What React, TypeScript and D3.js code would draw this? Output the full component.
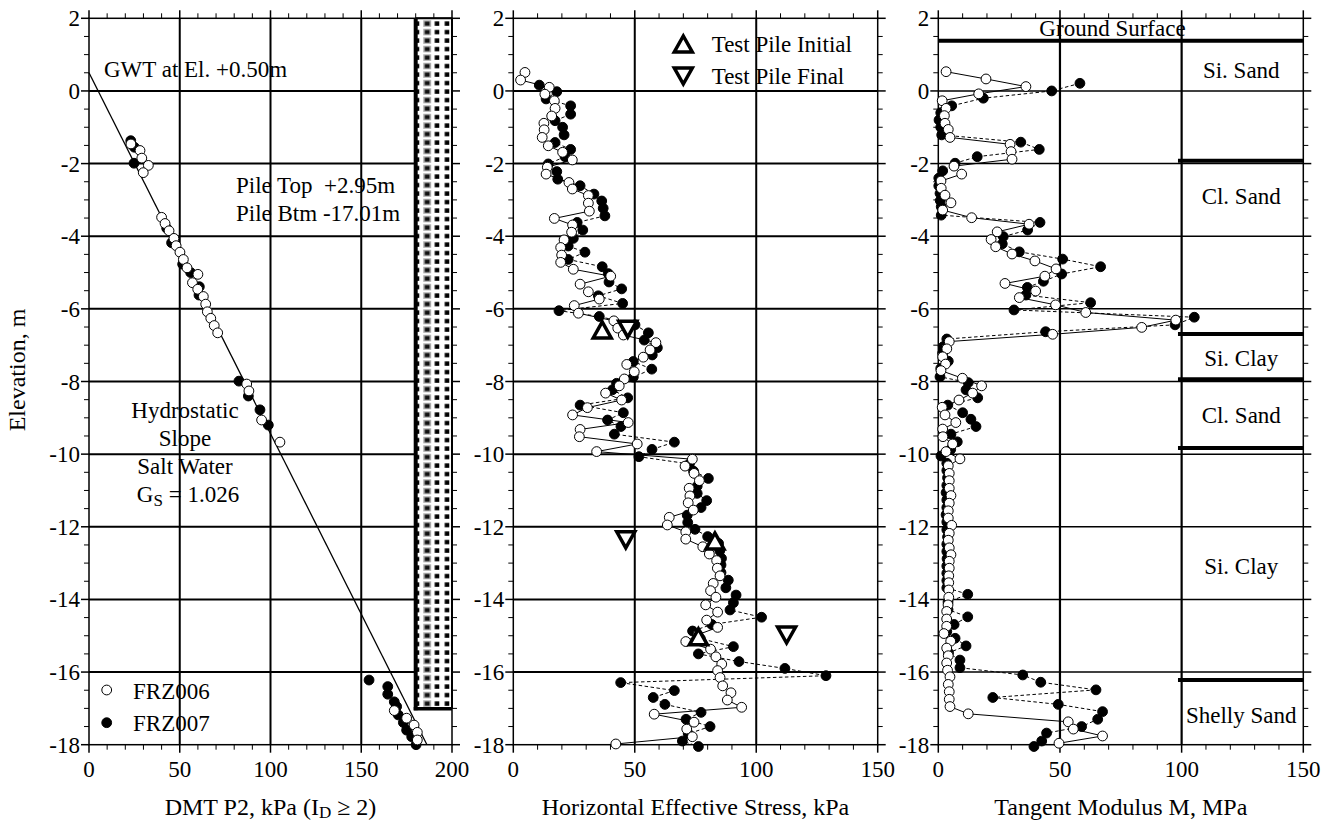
import React from 'react';
import * as d3 from 'd3';

const FONT = '"Liberation Serif", "Times New Roman", Times, serif';

// ---------- tick values ----------
const yTickValues = [2, 0, -2, -4, -6, -8, -10, -12, -14, -16, -18];
const xTicksP1 = [0, 50, 100, 150, 200];
const xTicksP23 = [0, 50, 100, 150];

// ---------- Panel 1 : DMT P2 (kPa) vs elevation ----------
const p2FRZ006: [number, number][] = [
  [23.1, -1.46], [28.1, -1.64], [29.1, -1.85], [32.7, -2.05], [29.9, -2.25],
  [40.0, -3.48], [41.9, -3.65], [44.1, -3.85], [46.8, -4.06], [48.0, -4.26],
  [50.1, -4.44], [52.0, -4.64], [54.0, -4.87], [60.0, -5.05], [57.0, -5.28],
  [59.9, -5.46], [63.0, -5.66], [64.3, -5.87], [65.2, -6.08], [67.1, -6.26],
  [69.0, -6.46], [70.9, -6.66], [86.9, -8.07], [88.1, -8.26], [95.1, -9.06],
  [105.2, -9.67], [168.2, -17.06], [175.0, -17.27], [179.1, -17.46], [180.9, -17.66],
  [180.9, -17.87],
];
const p2FRZ007: [number, number][] = [
  [23.0, -1.37], [25.0, -1.55], [24.8, -1.99], [42.8, -3.78], [45.5, -4.18],
  [51.6, -4.77], [56.0, -5.0], [60.8, -5.39], [60.6, -5.62], [82.6, -7.99],
  [87.8, -8.40], [94.2, -8.78], [98.8, -9.2], [154.3, -16.22], [164.6, -16.40],
  [164.6, -16.61], [168.2, -16.82], [169.5, -16.95], [170.4, -17.18], [173.2, -17.39],
  [175.0, -17.6], [177.8, -17.78], [180.2, -18.0],
];
const gwtElevation = 0.5;
const hydroBottom: [number, number] = [186.2, -18];
const pileX = [180, 200];
const pileBottom = -17.01;

// ---------- Panel 2 : horizontal effective stress (kPa) ----------
const shFRZ006: [number, number][] = [
  [4.8, 0.51], [3.0, 0.30], [14.8, 0.10], [13.0, -0.09], [16.9, -0.27], [17.2, -0.48],
  [15.8, -0.69], [12.6, -0.89], [12.7, -1.07], [11.9, -1.28], [14.4, -1.51], [20.3, -1.69],
  [24.3, -1.90], [14.0, -2.10], [13.5, -2.29], [22.9, -2.52], [24.3, -2.70], [30.9, -2.88],
  [30.9, -3.09], [31.3, -3.31], [16.9, -3.51], [24.4, -3.69], [24.0, -3.89], [20.9, -4.10],
  [19.5, -4.31], [19.9, -4.52], [19.5, -4.72], [24.7, -4.91], [40.1, -5.10], [27.5, -5.32],
  [30.9, -5.53], [35.4, -5.73], [25.1, -5.91], [26.8, -6.12], [41.4, -6.33], [43.0, -6.53],
  [45.3, -6.72], [58.7, -6.93], [56.3, -7.13], [53.5, -7.33], [46.7, -7.53], [49.8, -7.73],
  [45.7, -7.93], [43.6, -8.12], [38.0, -8.32], [44.6, -8.51], [30.5, -8.72], [24.4, -8.92],
  [47.3, -9.13], [27.5, -9.32], [27.2, -9.52], [51.0, -9.72], [34.3, -9.93], [73.7, -10.14],
  [70.7, -10.33], [74.4, -10.53], [76.6, -10.73], [72.4, -10.94], [72.7, -11.15], [72.0, -11.34],
  [74.1, -11.54], [64.2, -11.74], [63.4, -11.95], [71.0, -12.14], [71.0, -12.34], [78.0, -12.55],
  [80.7, -12.75], [83.7, -12.93], [84.0, -13.14], [85.1, -13.35], [82.3, -13.56], [81.2, -13.76],
  [83.4, -13.94], [79.2, -14.15], [84.1, -14.35], [79.6, -14.57], [84.1, -14.77], [76.0, -14.97],
  [71.0, -15.16], [81.2, -15.37], [83.4, -15.58], [85.8, -15.78], [84.1, -15.96], [85.1, -16.15],
  [86.2, -16.38], [89.6, -16.57], [88.1, -16.77], [94.0, -16.97], [58.0, -17.16], [74.4, -17.38],
  [71.4, -17.57], [73.7, -17.78], [42.2, -17.98], [75.0, -18.25],
];
const shFRZ007: [number, number][] = [
  [10.7, 0.16], [17.9, -0.02], [13.5, -0.22], [23.6, -0.41], [23.6, -0.64], [17.2, -0.82],
  [20.3, -1.0], [20.9, -1.21], [17.2, -1.42], [23.6, -1.61], [21.3, -1.81], [14.4, -2.01],
  [17.9, -2.22], [18.3, -2.43], [27.5, -2.61], [33.2, -2.84], [36.4, -3.03], [37.0, -3.23],
  [37.7, -3.44], [26.3, -3.62], [28.6, -3.83], [24.7, -4.06], [22.6, -4.27], [29.5, -4.44],
  [22.6, -4.64], [36.6, -4.84], [39.1, -5.03], [39.4, -5.26], [44.6, -5.45], [35.0, -5.64],
  [45.0, -5.85], [18.8, -6.05], [35.4, -6.21], [50.1, -6.44], [55.6, -6.66], [53.9, -6.86],
  [59.3, -7.07], [57.2, -7.27], [49.4, -7.45], [57.0, -7.66], [49.4, -7.88], [42.5, -8.05],
  [40.8, -8.23], [47.1, -8.45], [27.5, -8.65], [45.3, -8.86], [38.8, -9.06], [44.3, -9.24],
  [41.6, -9.45], [66.3, -9.67], [57.1, -9.87], [51.7, -10.07], [72.5, -10.27], [74.2, -10.47],
  [80.3, -10.67], [75.7, -10.88], [75.7, -11.08], [79.6, -11.28], [77.3, -11.47], [71.6, -11.68],
  [71.8, -11.88], [74.8, -12.07], [80.0, -12.27], [84.5, -12.46], [85.0, -12.66], [85.7, -12.87],
  [85.5, -13.05], [85.5, -13.26], [88.5, -13.47], [87.5, -13.68], [91.7, -13.88], [90.6, -14.09],
  [89.2, -14.29], [102.2, -14.49], [81.7, -14.69], [73.8, -14.87], [77.0, -15.08], [90.6, -15.30],
  [76.2, -15.50], [92.9, -15.71], [111.8, -15.90], [128.7, -16.10], [44.2, -16.29], [66.3, -16.51],
  [57.6, -16.70], [62.4, -16.89], [77.3, -17.11], [71.1, -17.30], [81.0, -17.50], [72.0, -17.70],
  [69.6, -17.90], [76.2, -18.05],
];
const testPileInitial: [number, number][] = [[36.6, -6.58], [83.0, -12.39], [76.2, -15.03]];
const testPileFinal: [number, number][] = [[47.1, -6.56], [46.3, -12.36], [112.5, -14.98]];

// ---------- Panel 3 : tangent modulus M (MPa) ----------
const mFRZ006: [number, number][] = [
  [3.2, 0.53], [19.6, 0.33], [36.0, 0.12], [16.6, -0.08], [1.6, -0.27], [3.2, -0.48],
  [2.5, -0.68], [2.75, -0.89], [4.1, -1.06], [4.8, -1.28], [29.5, -1.47], [29.9, -1.67],
  [30.3, -1.88], [6.45, -2.07], [9.6, -2.29], [1.1, -2.48], [1.2, -2.68], [2.75, -2.87],
  [5.2, -3.08], [1.8, -3.28], [13.7, -3.49], [37.3, -3.67], [24.2, -3.88], [21.7, -4.09],
  [23.6, -4.29], [30.3, -4.49], [39.7, -4.68], [48.4, -4.90], [43.8, -5.10], [27.4, -5.30],
  [40.0, -5.51], [33.3, -5.69], [48.2, -5.89], [60.6, -6.10], [97.6, -6.31], [83.6, -6.51],
  [47.0, -6.70], [4.5, -6.90], [3.5, -7.10], [1.8, -7.32], [3.0, -7.52], [1.1, -7.70],
  [9.9, -7.91], [17.8, -8.12], [14.1, -8.32], [8.5, -8.51], [1.6, -8.71], [2.75, -8.92],
  [7.2, -9.13], [1.8, -9.31], [1.9, -9.52], [5.9, -9.72], [3.2, -9.93], [8.9, -10.13],
  [4.1, -10.32], [4.5, -10.53], [4.5, -10.73], [4.5, -10.94], [5.2, -11.14], [4.5, -11.35],
  [4.1, -11.56], [4.1, -11.76], [5.5, -11.96], [4.5, -12.18], [4.1, -12.37], [4.5, -12.58],
  [5.2, -12.77], [4.5, -12.95], [4.5, -13.14], [4.3, -13.35], [4.3, -13.54], [4.3, -13.74],
  [4.3, -13.94], [4.0, -14.15], [3.45, -14.33], [3.45, -14.54], [3.45, -14.74], [2.3, -14.94],
  [5.1, -15.15], [3.45, -15.34], [4.1, -15.55], [3.45, -15.75], [3.8, -15.95], [4.8, -16.13],
  [4.1, -16.34], [4.5, -16.54], [4.5, -16.75], [4.8, -16.95], [12.3, -17.15], [53.4, -17.37],
  [55.5, -17.57], [67.5, -17.76], [49.6, -17.96],
];
const mFRZ007: [number, number][] = [
  [58.2, 0.21], [46.6, 0.0], [18.5, -0.20], [5.5, -0.41], [1.0, -0.60], [0.3, -0.80],
  [1.0, -1.0], [1.4, -1.21], [33.9, -1.41], [41.5, -1.61], [16.0, -1.81], [6.9, -1.99],
  [1.8, -2.20], [0.2, -2.40], [0.2, -2.61], [0.7, -2.82], [0.8, -3.02], [1.2, -3.19],
  [1.2, -3.42], [41.8, -3.62], [36.7, -3.83], [26.7, -4.01], [26.3, -4.21], [33.3, -4.43],
  [51.1, -4.63], [66.7, -4.84], [50.7, -5.04], [43.2, -5.24], [36.6, -5.41], [36.0, -5.62],
  [62.6, -5.83], [31.1, -6.03], [105.2, -6.23], [97.3, -6.44], [44.1, -6.63], [3.5, -6.83],
  [2.05, -7.04], [1.8, -7.22], [4.1, -7.44], [1.0, -7.64], [0.7, -7.87], [12.3, -8.03],
  [11.4, -8.23], [16.2, -8.45], [3.9, -8.65], [10.0, -8.86], [13.4, -9.04], [15.5, -9.24],
  [5.2, -9.45], [7.8, -9.66], [5.1, -9.87], [1.1, -10.05], [3.5, -10.25], [3.5, -10.45],
  [3.8, -10.65], [3.5, -10.86], [3.2, -11.06], [3.5, -11.26], [3.5, -11.47], [3.2, -11.67],
  [3.5, -11.87], [3.5, -12.08], [3.8, -12.28], [3.5, -12.48], [3.5, -12.68], [3.6, -12.88],
  [3.5, -13.08], [3.5, -13.28], [3.5, -13.48], [3.5, -13.68], [12.1, -13.86], [4.0, -14.07],
  [4.0, -14.28], [12.1, -14.48], [6.5, -14.69], [3.5, -14.88], [6.9, -15.07], [11.4, -15.28],
  [4.2, -15.47], [8.9, -15.67], [8.9, -15.88], [34.7, -16.08], [42.1, -16.28], [64.8, -16.49],
  [22.4, -16.70], [49.3, -16.89], [67.5, -17.09], [65.5, -17.30], [58.9, -17.50], [44.5, -17.68],
  [42.5, -17.90], [39.3, -18.05],
];
const groundSurface = 1.38;
const layerBoundaries = [-1.92, -6.69, -7.94, -9.83, -16.22];
const layerLabels: { text: string; el: number }[] = [
  { text: 'Si. Sand', el: 0.36 },
  { text: 'Cl. Sand', el: -3.12 },
  { text: 'Si. Clay', el: -7.58 },
  { text: 'Cl. Sand', el: -9.14 },
  { text: 'Si. Clay', el: -13.3 },
  { text: 'Shelly Sand', el: -17.41 },
];

// ---------- layout ----------
const W = 1336;
const H = 825;
const yScale = d3.scaleLinear().domain([2, -18]).range([18.3, 744.7]);
const x1 = d3.scaleLinear().domain([0, 200]).range([89, 452]);
const x2 = d3.scaleLinear().domain([0, 150]).range([513.3, 877.7]);
const x3 = d3.scaleLinear().domain([0, 150]).range([938.3, 1303.3]);

const TICK_FS = 23;
const TITLE_FS = 24;
const NOTE_FS = 23;
const R = 4.9;

function range(a: number, b: number, s: number) {
  const out: number[] = [];
  for (let v = a; v <= b + 1e-9; v += s) out.push(Math.round(v * 1000) / 1000);
  return out;
}

type PanelProps = {
  x: d3.ScaleLinear<number, number>;
  majors: number[];
  minorStep: number;
  hGridW: number;
  vGridW: number;
  title: React.ReactNode;
  gridStopX?: number;
};

function Axes({ x, majors, minorStep, hGridW, vGridW, title, gridStopX }: PanelProps) {
  const [d0, d1] = x.domain();
  const left = x(d0);
  const right = x(d1);
  const top = yScale(2);
  const bot = yScale(-18);
  const minorsX = range(d0, d1, minorStep).filter((v) => !majors.includes(v));
  const minorsY = range(-18, 2, 0.5).filter((v) => !yTickValues.includes(v));
  const hEnd = gridStopX !== undefined ? gridStopX : right;
  return (
    <g>
      {yTickValues
        .filter((v) => v !== 2 && v !== -18)
        .map((v) => (
          <line key={'hg' + v} x1={left} x2={hEnd} y1={yScale(v)} y2={yScale(v)} stroke="#000" strokeWidth={hGridW} />
        ))}
      {majors
        .filter((v) => v !== d0 && v !== d1)
        .map((v) => (
          <line key={'vg' + v} x1={x(v)} x2={x(v)} y1={top} y2={bot} stroke="#000" strokeWidth={vGridW} />
        ))}
      <rect x={left} y={top} width={right - left} height={bot - top} fill="none" stroke="#000" strokeWidth={1.5} />
      {majors.map((v) => (
        <g key={'xt' + v}>
          <line x1={x(v)} x2={x(v)} y1={top - 8} y2={top} stroke="#000" strokeWidth={1.5} />
          <line x1={x(v)} x2={x(v)} y1={bot} y2={bot + 8} stroke="#000" strokeWidth={1.5} />
          <text x={x(v)} y={777} textAnchor="middle" fontSize={TICK_FS} fontFamily={FONT}>
            {String(v)}
          </text>
        </g>
      ))}
      {minorsX.map((v) => (
        <g key={'xm' + v}>
          <line x1={x(v)} x2={x(v)} y1={top - 5} y2={top} stroke="#000" strokeWidth={1} />
          <line x1={x(v)} x2={x(v)} y1={bot} y2={bot + 5} stroke="#000" strokeWidth={1} />
        </g>
      ))}
      {yTickValues.map((v) => (
        <g key={'yt' + v}>
          <line x1={left - 8} x2={left} y1={yScale(v)} y2={yScale(v)} stroke="#000" strokeWidth={1.5} />
          <line x1={right} x2={right + 8} y1={yScale(v)} y2={yScale(v)} stroke="#000" strokeWidth={1.5} />
          <text x={left - 9} y={yScale(v)} dy="0.35em" textAnchor="end" fontSize={TICK_FS} fontFamily={FONT}>
            {String(v)}
          </text>
        </g>
      ))}
      {minorsY.map((v) => (
        <g key={'ym' + v}>
          <line x1={left - 5} x2={left} y1={yScale(v)} y2={yScale(v)} stroke="#000" strokeWidth={1} />
          <line x1={right} x2={right + 5} y1={yScale(v)} y2={yScale(v)} stroke="#000" strokeWidth={1} />
        </g>
      ))}
      <text x={(left + right) / 2} y={815} textAnchor="middle" fontSize={TITLE_FS} fontFamily={FONT}>
        {title}
      </text>
    </g>
  );
}

function SeriesLine({
  data,
  x,
  dashed,
  clipId,
}: {
  data: [number, number][];
  x: d3.ScaleLinear<number, number>;
  dashed?: boolean;
  clipId?: string;
}) {
  const line = d3
    .line<[number, number]>()
    .x((d) => x(d[0]))
    .y((d) => yScale(d[1]));
  return (
    <path
      d={line(data) || ''}
      fill="none"
      stroke="#000"
      strokeWidth={1}
      strokeDasharray={dashed ? '3.5,2.5' : undefined}
      clipPath={clipId ? `url(#${clipId})` : undefined}
    />
  );
}

function Markers({ data, x, filled }: { data: [number, number][]; x: d3.ScaleLinear<number, number>; filled: boolean }) {
  return (
    <g>
      {data
        .filter((d) => d[1] >= -18.1)
        .map((d, i) => (
          <circle
            key={i}
            cx={x(d[0])}
            cy={yScale(d[1])}
            r={R}
            fill={filled ? '#000' : '#fff'}
            stroke="#000"
            strokeWidth={1}
          />
        ))}
    </g>
  );
}

function tri(cx: number, cy: number, up: boolean) {
  const hw = 9;
  const hh = 8;
  if (up) return `M${cx - hw},${cy + hh}L${cx + hw},${cy + hh}L${cx},${cy - hh}Z`;
  return `M${cx - hw},${cy - hh}L${cx + hw},${cy - hh}L${cx},${cy + hh}Z`;
}

export default function App() {
  const top = yScale(2);
  const bot = yScale(-18);
  const pileL = x1(pileX[0]);
  const pileR = x1(pileX[1]);
  const pileB = yScale(pileBottom);

  return (
    <div style={{ position: 'absolute', left: 0, top: 0 }}>
      <svg width={W} height={H} viewBox={`0 0 ${W} ${H}`} style={{ display: 'block', background: '#fff' }}>
        <defs>
          <clipPath id="clip2">
            <rect x={x2(0)} y={top} width={x2(150) - x2(0)} height={bot - top} />
          </clipPath>
          <clipPath id="clip3">
            <rect x={x3(0)} y={top} width={x3(150) - x3(0)} height={bot - top} />
          </clipPath>
          <pattern id="pilePat" patternUnits="userSpaceOnUse" width={30} height={8.5} x={pileL + 6.5} y={top + 1}>
            <rect x={0} y={0} width={30} height={8.5} fill="#fff" />
            <rect x={1} y={1} width={8} height={6.5} fill="#b0b0b0" />
            <rect x={2.6} y={2.3} width={4.8} height={4} fill="#111" />
            <rect x={12.5} y={2.1} width={4.6} height={4.4} fill="#000" />
            <rect x={22.5} y={2.1} width={4.6} height={4.4} fill="#000" />
          </pattern>
        </defs>

        {/* ---------------- Panel 1 ---------------- */}
        <Axes
          x={x1}
          majors={xTicksP1}
          minorStep={10}
          hGridW={2}
          vGridW={2}
          gridStopX={pileL}
          title={
            <>
              DMT P2, kPa (I
              <tspan baselineShift="-20%" fontSize={17}>
                D
              </tspan>
              {' \u2265 2)'}
            </>
          }
        />
        <line
          x1={x1(0)}
          y1={yScale(gwtElevation)}
          x2={x1(hydroBottom[0])}
          y2={yScale(hydroBottom[1])}
          stroke="#000"
          strokeWidth={1.3}
        />
        <rect x={pileL} y={top} width={pileR - pileL} height={pileB - top} fill="url(#pilePat)" />
        <line x1={pileL} x2={pileL} y1={top} y2={pileB + 1.5} stroke="#000" strokeWidth={4} />
        <line x1={pileL - 2} x2={pileR} y1={pileB} y2={pileB} stroke="#000" strokeWidth={3.5} />
        <line x1={pileR} x2={pileR} y1={top} y2={pileB} stroke="#000" strokeWidth={2} />
        <line x1={pileL} x2={pileR} y1={top} y2={top} stroke="#000" strokeWidth={2} />
        <Markers data={p2FRZ007} x={x1} filled={true} />
        <Markers data={p2FRZ006} x={x1} filled={false} />
        <text x={104} y={77} fontSize={NOTE_FS} fontFamily={FONT}>
          GWT at El. +0.50m
        </text>
        <text x={236} y={193} fontSize={NOTE_FS} fontFamily={FONT} style={{ whiteSpace: 'pre' }}>
          {'Pile Top  +2.95m'}
        </text>
        <text x={236} y={221} fontSize={NOTE_FS} fontFamily={FONT}>
          Pile Btm -17.01m
        </text>
        <g fontSize={NOTE_FS} fontFamily={FONT} textAnchor="middle">
          <text x={185} y={418}>Hydrostatic</text>
          <text x={185} y={446}>Slope</text>
          <text x={185} y={474}>Salt Water</text>
          <text x={188} y={502}>
            G
            <tspan baselineShift="-25%" fontSize={17}>
              S
            </tspan>
            {' = 1.026'}
          </text>
        </g>
        <circle cx={106.7} cy={690} r={R} fill="#fff" stroke="#000" strokeWidth={1} />
        <circle cx={106.7} cy={722.7} r={R} fill="#000" stroke="#000" strokeWidth={1} />
        <text x={133} y={698.5} fontSize={NOTE_FS} fontFamily={FONT}>
          FRZ006
        </text>
        <text x={133} y={731} fontSize={NOTE_FS} fontFamily={FONT}>
          FRZ007
        </text>
        <text transform="translate(25,370) rotate(-90)" textAnchor="middle" fontSize={TITLE_FS} fontFamily={FONT}>
          Elevation, m
        </text>

        {/* ---------------- Panel 2 ---------------- */}
        <Axes x={x2} majors={xTicksP23} minorStep={10} hGridW={2} vGridW={2} title="Horizontal Effective Stress, kPa" />
        <SeriesLine data={shFRZ007} x={x2} dashed={true} clipId="clip2" />
        <SeriesLine data={shFRZ006} x={x2} clipId="clip2" />
        <Markers data={shFRZ007} x={x2} filled={true} />
        <Markers data={shFRZ006} x={x2} filled={false} />
        {testPileInitial.map((d, i) => (
          <path key={'ti' + i} d={tri(x2(d[0]), yScale(d[1]), true)} fill="#fff" stroke="#000" strokeWidth={3.5} />
        ))}
        {testPileFinal.map((d, i) => (
          <path key={'tf' + i} d={tri(x2(d[0]), yScale(d[1]), false)} fill="#fff" stroke="#000" strokeWidth={3.5} />
        ))}
        <path d={tri(683.3, 44, true)} fill="#fff" stroke="#000" strokeWidth={3.5} />
        <path d={tri(683.3, 76, false)} fill="#fff" stroke="#000" strokeWidth={3.5} />
        <text x={711.7} y={52} fontSize={NOTE_FS} fontFamily={FONT}>
          Test Pile Initial
        </text>
        <text x={711.7} y={84} fontSize={NOTE_FS} fontFamily={FONT}>
          Test Pile Final
        </text>

        {/* ---------------- Panel 3 ---------------- */}
        <Axes x={x3} majors={xTicksP23} minorStep={10} hGridW={1.5} vGridW={2.2} title="Tangent Modulus M, MPa" />
        <line x1={x3(0)} x2={x3(150)} y1={yScale(groundSurface)} y2={yScale(groundSurface)} stroke="#000" strokeWidth={4} />
        {layerBoundaries.map((el) => (
          <line key={'lb' + el} x1={x3(98.5)} x2={x3(150)} y1={yScale(el)} y2={yScale(el)} stroke="#000" strokeWidth={4} />
        ))}
        <SeriesLine data={mFRZ007} x={x3} dashed={true} clipId="clip3" />
        <SeriesLine data={mFRZ006} x={x3} clipId="clip3" />
        <Markers data={mFRZ007} x={x3} filled={true} />
        <Markers data={mFRZ006} x={x3} filled={false} />
        <text x={1112.5} y={36} textAnchor="middle" fontSize={NOTE_FS} fontFamily={FONT}>
          Ground Surface
        </text>
        {layerLabels.map((l, i) => (
          <text key={'ll' + i} x={x3(124.5)} y={yScale(l.el)} textAnchor="middle" fontSize={NOTE_FS} fontFamily={FONT}>
            {l.text}
          </text>
        ))}
      </svg>
    </div>
  );
}
